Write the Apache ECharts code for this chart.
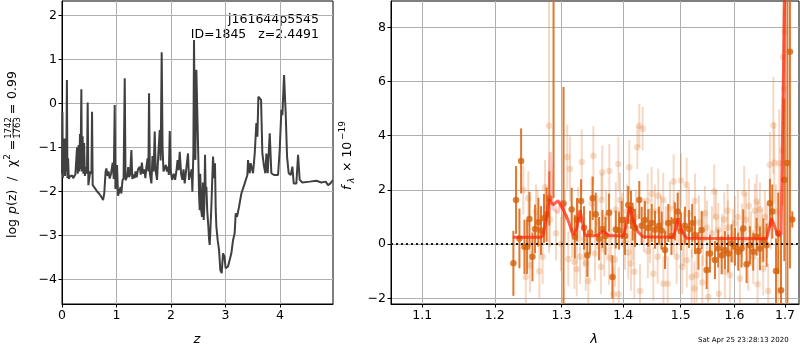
<!DOCTYPE html>
<html><head><meta charset="utf-8">
<script src="https://cdn.jsdelivr.net/npm/echarts@6/dist/echarts.min.js"></script>
<style>html,body{margin:0;padding:0;background:#fff}#c{width:800px;height:350px}</style>
</head><body><div id="c"></div>
<script>
// ---------- tick labels ----------
const zTicks = [0, 1, 2, 3, 4];
const logPTicks = [-4, -3, -2, -1, 0, 1, 2];
const lamTicks = [1.1, 1.2, 1.3, 1.4, 1.5, 1.6, 1.7];
const fluxTicks = [-2, 0, 2, 4, 6, 8];

// ---------- left panel: log p(z) vs z ----------
const pz = [
[0.000,-1.60],[0.008,-0.20],[0.016,-1.70],[0.026,-0.85],[0.036,-1.45],[0.046,-0.80],[0.056,-1.65],[0.066,-1.15],
[0.078,-1.55],[0.090,0.53],[0.100,-1.70],[0.112,-1.25],[0.125,-1.72],[0.145,-1.66],[0.165,-1.70],[0.185,-1.64],
[0.205,-1.70],[0.225,-1.66],[0.245,-1.62],[0.262,-1.65],[0.276,-1.00],[0.290,-1.60],[0.305,-0.95],[0.318,-1.55],
[0.330,-0.70],[0.340,-1.50],[0.355,0.32],[0.365,-1.55],[0.378,-0.75],[0.392,-1.60],[0.405,-0.90],[0.420,-1.65],
[0.440,-1.45],[0.458,-1.60],[0.471,0.02],[0.484,-1.86],[0.500,-1.70],[0.520,-1.55],[0.540,-1.60],[0.551,-0.19],
[0.563,-1.86],[0.600,-1.92],[0.640,-2.00],[0.680,-2.05],[0.720,-2.12],[0.753,-2.20],[0.775,-2.05],[0.800,-1.55],
[0.814,-1.48],[0.835,-1.65],[0.855,-1.55],[0.875,-1.71],[0.900,-1.60],[0.930,-1.35],[0.950,-1.72],[0.967,-0.04],
[0.980,-1.95],[0.997,-1.80],[1.010,-1.40],[1.028,-2.10],[1.059,-2.08],[1.075,-1.90],[1.089,-2.05],[1.110,-1.75],
[1.130,-1.70],[1.151,0.57],[1.166,-1.75],[1.181,-1.73],[1.200,-1.65],[1.215,-1.45],[1.230,-1.68],[1.250,-1.62],
[1.273,-1.06],[1.290,-1.72],[1.310,-1.62],[1.330,-1.70],[1.350,-1.55],[1.370,-1.68],[1.395,-1.50],[1.426,-1.44],
[1.445,-1.62],[1.465,-1.35],[1.487,-1.60],[1.510,-1.50],[1.530,-1.70],[1.548,-1.45],[1.570,-1.25],[1.585,-1.55],
[1.597,0.23],[1.612,-1.60],[1.640,-1.82],[1.660,-1.20],[1.680,-1.55],[1.701,-0.64],[1.720,-1.55],[1.744,-1.74],
[1.765,-1.20],[1.793,-0.61],[1.810,-1.30],[1.829,1.16],[1.845,-1.00],[1.862,-1.55],[1.884,-1.59],[1.905,-1.40],
[1.925,-1.55],[1.946,-1.44],[1.960,-1.63],[1.977,-0.63],[1.995,-1.55],[2.020,-1.74],[2.050,-1.60],[2.075,-1.74],
[2.098,-1.55],[2.120,-1.29],[2.140,-1.52],
[2.160,-1.10],[2.185,-1.60],[2.208,-1.74],[2.230,-1.50],[2.251,-1.82],[2.275,-1.55],[2.294,-1.33],[2.312,-1.14],
[2.331,-1.74],[2.361,-1.71],[2.380,-1.50],[2.392,-2.01],[2.410,-1.14],[2.422,1.44],[2.441,-1.14],[2.447,-1.29],
[2.465,0.76],[2.484,0.80],[2.502,-1.29],[2.515,-2.10],[2.527,-2.43],[2.536,-1.60],[2.545,-1.97],[2.556,-2.45],
[2.569,-2.58],[2.585,-1.80],[2.600,-2.65],[2.612,-2.30],[2.624,-1.17],[2.636,-2.00],[2.649,-1.90],[2.665,-2.45],
[2.685,-2.80],[2.698,-3.10],[2.710,-3.22],[2.722,-2.90],[2.740,-2.35],[2.760,-1.60],[2.771,-1.21],[2.790,-1.70],
[2.807,-1.36],[2.820,-2.40],[2.832,-2.80],[2.856,-3.11],[2.881,-3.33],[2.905,-3.79],[2.930,-3.86],[2.954,-3.41],
[2.979,-3.48],[3.003,-3.75],[3.046,-3.71],[3.076,-3.56],[3.107,-3.41],[3.138,-3.11],[3.168,-2.95],[3.187,-2.50],
[3.211,-2.58],[3.248,-2.35],[3.291,-2.05],[3.352,-1.82],[3.401,-1.63],[3.413,-1.29],[3.444,-1.59],[3.462,-1.36],
[3.505,-1.59],[3.536,-1.14],[3.566,-0.45],[3.585,-0.76],[3.603,0.15],[3.627,0.11],[3.652,0.08],[3.676,-1.14],
[3.707,-1.44],[3.731,-1.59],[3.750,-1.14],[3.774,-1.59],[3.811,-0.68],[3.841,-1.59],[3.890,-1.63],[3.964,-1.63],
[3.994,-1.06],[4.025,-0.15],[4.043,-0.27],[4.074,0.64],[4.104,-0.23],[4.129,-1.21],[4.159,-1.59],[4.196,-1.63],
[4.227,-1.44],[4.251,-1.82],[4.300,-1.82],[4.331,-1.17],[4.361,-1.74],[4.410,-1.80],[4.544,-1.78],[4.667,-1.76],
[4.758,-1.80],[4.838,-1.78],[4.881,-1.86],[4.924,-1.82],[4.960,-1.76],[4.972,-1.75]
];

// ---------- right panel: spectrum [lambda (um), flux, error] ----------
const darkPts = [
[1.2271,-0.71,1.2],[1.2310,1.63,1.25],[1.2360,0.21,1.1],[1.2385,3.07,1.2],[1.2435,-0.10,1.0],[1.2475,-0.10,1.0],
[1.2510,0.93,1.0],[1.2555,-0.47,0.9],[1.2594,0.56,0.9],[1.2645,0.81,0.9],[1.2685,0.50,0.9],[1.2730,0.95,0.9],
[1.2770,1.09,1.0],[1.2812,1.69,1.0],[1.2877,10.50,8.8],[1.3032,1.50,4.3],[1.3160,1.28,0.8],[1.3210,0.27,0.8],
[1.3245,0.90,0.8],[1.3309,1.59,0.8],[1.3357,0.60,0.8],[1.3410,-0.41,0.8],[1.3453,0.43,0.8],[1.3497,1.69,0.8],
[1.3545,1.10,0.8],[1.3600,0.20,0.8],[1.3655,0.56,0.7],[1.3705,0.30,0.7],[1.3764,1.16,0.7],[1.3820,-1.21,0.8],
[1.3876,0.54,0.7],[1.3930,0.50,0.7],[1.3975,0.89,0.7],[1.4030,0.30,0.7],[1.4086,1.44,0.7],[1.4132,1.26,0.7],
[1.4160,0.83,0.7],[1.4200,0.60,0.7],[1.4273,1.63,0.7],[1.4314,0.68,0.7],[1.4370,0.89,0.7],[1.4428,0.59,0.7],
[1.4487,0.78,0.7],[1.4545,0.53,0.7],[1.4614,0.68,0.7],[1.4662,0.50,0.7],[1.4720,-0.22,0.7],[1.4778,0.78,0.7],
[1.4835,0.30,0.7],[1.4897,0.84,0.7],[1.4946,1.20,0.7],[1.5005,0.47,0.7],[1.5077,0.68,0.7],[1.5150,0.56,0.7],
[1.5210,0.78,0.7],[1.5260,0.33,0.7],[1.5324,-0.25,0.7],[1.5382,0.52,0.7],[1.5475,-0.96,0.7],[1.5536,-0.35,0.7],
[1.5630,-0.59,0.7],[1.5692,-0.16,0.7],[1.5756,-0.41,0.7],[1.5818,-0.22,0.7],[1.5880,-0.35,0.7],[1.5945,0.03,0.7],
[1.6010,-0.10,0.7],[1.6073,-0.28,0.7],[1.6138,-0.16,0.7],[1.6170,0.58,0.7],[1.6235,-0.74,0.7],[1.6300,-0.04,0.7],
[1.6365,-0.28,0.7],[1.6431,0.27,0.7],[1.6497,-0.16,0.8],[1.6563,0.15,0.8],[1.6630,-0.04,0.8],[1.6696,1.51,0.9],
[1.6743,1.20,1.0],[1.6818,-0.99,1.2],[1.6864,0.40,1.5],[1.6920,-1.70,2.0],[1.6987,2.37,3.0],[1.7050,2.99,6.0],
[1.7102,7.10,8.0],[1.7150,0.91,0.3]
];
const lightPts = [
[1.2418,2.00,0.9],[1.2455,-1.21,1.0],[1.2493,1.69,1.0],[1.2518,-0.78,1.0],[1.2609,1.20,1.0],[1.2634,1.01,1.0],
[1.2659,-1.00,1.0],[1.2710,-0.47,1.0],[1.2746,2.10,1.0],[1.2807,4.37,4.7],[1.2823,0.90,1.0],[1.2915,0.40,1.0],
[1.2993,0.00,1.0],[1.3055,1.00,1.0],[1.3091,3.21,1.2],[1.3107,-0.55,1.0],[1.3134,2.77,1.2],[1.3166,0.50,1.0],
[1.3204,-0.65,1.0],[1.3241,-0.93,1.0],[1.3261,1.10,1.0],[1.3293,-0.47,1.0],[1.3320,3.03,1.2],[1.3357,0.20,1.0],
[1.3384,-0.72,1.0],[1.3426,-1.36,1.0],[1.3480,1.50,1.0],[1.3507,3.26,1.1],[1.3534,-0.35,1.0],[1.3566,0.80,1.0],
[1.3631,-0.84,1.0],[1.3640,1.63,1.0],[1.3653,2.64,1.0],[1.3686,-0.20,1.0],[1.3714,1.00,1.0],[1.3764,-0.50,1.0],
[1.3769,2.70,1.0],[1.3797,0.30,1.0],[1.3836,-1.85,1.0],[1.3864,-0.57,1.0],[1.3876,1.28,1.0],[1.3919,2.96,1.0],
[1.3925,-1.85,1.0],[1.3946,1.63,1.0],[1.3980,0.90,1.0],[1.4030,0.05,1.0],[1.4064,1.20,1.0],[1.4086,-0.31,1.0],
[1.4102,2.84,1.0],[1.4131,-0.72,1.0],[1.4165,0.40,1.0],[1.4187,-1.02,1.0],[1.4216,1.00,1.0],[1.4239,3.57,0.8],
[1.4273,4.37,0.8],[1.4285,-1.73,1.0],[1.4331,4.26,0.8],[1.4354,0.70,1.0],[1.4418,1.60,1.0],[1.4420,-0.26,1.0],
[1.4457,0.30,1.0],[1.4486,1.85,1.0],[1.4515,-1.09,1.0],[1.4544,1.20,1.0],[1.4591,-0.47,1.0],[1.4602,1.78,1.0],
[1.4650,0.80,1.0],[1.4690,1.63,1.0],[1.4692,-1.46,1.0],[1.4737,0.40,1.0],[1.4768,-1.46,1.0],[1.4808,1.30,1.0],
[1.4874,2.31,1.0],[1.4879,0.60,1.0],[1.4928,-0.47,1.0],[1.4969,1.00,1.0],[1.5005,2.35,1.0],[1.5029,-0.84,1.0],
[1.5059,0.20,1.0],[1.5108,2.19,1.0],[1.5110,-0.60,1.0],[1.5150,1.10,1.0],[1.5199,-1.21,1.0],[1.5205,0.50,1.0],
[1.5247,-1.64,1.0],[1.5260,1.60,1.0],[1.5290,-1.15,1.0],[1.5333,0.80,1.0],[1.5394,-1.42,1.0],[1.5406,0.20,1.0],
[1.5443,1.14,1.0],[1.5480,0.60,1.0],[1.5505,-1.95,1.0],[1.5573,0.40,1.0],[1.5617,1.94,1.0],[1.5649,1.00,1.0],
[1.5692,0.52,1.0],[1.5706,-1.83,1.0],[1.5762,0.10,1.0],[1.5805,0.91,1.0],[1.5818,-1.02,1.0],[1.5869,1.23,1.0],
[1.5875,0.60,1.0],[1.5913,-1.15,1.0],[1.5970,0.30,1.0],[1.6009,0.77,1.0],[1.6066,1.00,1.0],[1.6105,-1.27,1.0],
[1.6144,0.50,1.0],[1.6189,1.88,1.0],[1.6222,0.90,1.0],[1.6268,-0.72,1.0],[1.6280,1.41,1.0],[1.6320,0.20,1.0],
[1.6365,-0.47,1.0],[1.6398,1.23,1.0],[1.6432,1.57,1.0],[1.6451,-1.48,1.0],[1.6458,0.60,1.0],[1.6497,1.28,1.0],
[1.6537,0.30,1.0],[1.6563,-0.90,1.0],[1.6597,1.00,1.0],[1.6636,0.50,1.0],[1.6662,-1.73,1.0],[1.6696,2.93,1.2],
[1.6716,0.80,1.0],[1.6764,4.38,1.8],[1.6783,3.00,1.5],[1.6817,1.20,1.0],[1.6864,-1.73,1.5],[1.6884,2.97,2.0],
[1.6953,3.44,2.0],[1.6964,6.90,2.5],[1.6979,5.73,3.0],[1.6996,7.84,3.0]
];
const modelLine = [
[1.2262,0.25],[1.2669,0.25],[1.2715,0.30],[1.2772,1.00],[1.2807,1.65],[1.2869,1.45],[1.2946,1.60],[1.3030,1.26],
[1.3100,0.90],[1.3186,0.33],[1.3244,0.60],[1.3293,1.26],[1.3373,0.33],[1.3453,0.30],[1.3570,0.32],[1.3670,0.48],
[1.3760,0.32],[1.3998,0.30],[1.4040,0.60],[1.4114,1.38],[1.4180,0.80],[1.4250,0.45],[1.4340,0.27],[1.4868,0.25],
[1.4957,0.95],[1.5020,0.45],[1.5108,0.22],[1.6630,0.20],[1.6730,0.95],[1.6864,0.30],[1.6920,0.35],[1.6996,9.50]
];
const contamLine = [
[1.2807,1.65],[1.2825,3.40],[1.2869,1.30],[1.2946,1.15],[1.3000,1.60],[1.3030,1.30]
];

const FONT = 'DejaVu Sans';
const minus = v => String(v).replace('-', '\u2212');
const LN = Math.log;

function axisBase(ticks, fmt) {
  return {
    axisLine: {show: true, onZero: false, lineStyle: {color: '#000', width: 1}},
    axisTick: {show: true, inside: false, length: 3.5, customValues: ticks, lineStyle: {color: '#000', width: 1}},
    axisLabel: {show: true, customValues: ticks, color: '#000', fontFamily: FONT, fontSize: 12.5, margin: 5, formatter: fmt},
    splitLine: {show: true, lineStyle: {color: '#b0b0b0', width: 1}},
    splitArea: {show: false}
  };
}

function errBars(pts, color, width) {
  return {
    type: 'custom', xAxisIndex: 1, yAxisIndex: 1, clip: true, silent: true,
    data: pts.map(p => [LN(p[0]), p[1] - p[2], p[1] + p[2]]),
    encode: {x: 0, y: [1, 2]},
    renderItem: (params, api) => {
      const a = api.coord([api.value(0), api.value(1)]);
      const b = api.coord([api.value(0), api.value(2)]);
      return {type: 'line', shape: {x1: a[0], y1: a[1], x2: b[0], y2: b[1]},
        style: {stroke: color, lineWidth: width}};
    }
  };
}

const chart = echarts.init(document.getElementById('c'), null, {renderer: 'canvas'});
const lamFmt = v => Math.exp(v).toFixed(1);
const txt = (o) => Object.assign({type: 'text', silent: true}, o);
const rot = (x, y, text, font, align) => txt({x, y, rotation: Math.PI / 2,
  style: {text, font, fill: '#000', textAlign: align || 'left', textVerticalAlign: 'middle'}});
const F = '12.5px "DejaVu Sans"', FI = 'italic 12.5px "DejaVu Sans"', FS = '8.5px "DejaVu Sans"';

chart.setOption({
  animation: false,
  backgroundColor: '#fff',
  grid: [
    {left: 62, top: 1, width: 271, height: 303, show: true, borderColor: '#000', borderWidth: 1, backgroundColor: 'transparent'},
    {left: 391, top: 1, width: 408, height: 303, show: true, borderColor: '#000', borderWidth: 1, backgroundColor: 'transparent'}
  ],
  xAxis: [
    Object.assign({type: 'value', gridIndex: 0, min: 0, max: 4.972}, axisBase(zTicks, v => minus(v))),
    Object.assign({type: 'value', gridIndex: 1, min: 0.05773, max: 0.5475}, axisBase(lamTicks.map(LN), lamFmt))
  ],
  yAxis: [
    Object.assign({type: 'value', gridIndex: 0, min: -4.561, max: 2.325}, axisBase(logPTicks, v => minus(v))),
    Object.assign({type: 'value', gridIndex: 1, min: -2.21, max: 8.97}, axisBase(fluxTicks, v => minus(v)))
  ],
  series: [
    {type: 'line', xAxisIndex: 0, yAxisIndex: 0, data: pz, showSymbol: false, symbol: 'none', clip: true,
      lineStyle: {color: '#404040', width: 2}, silent: true},
    errBars(lightPts, 'rgba(224,120,42,0.28)', 2),
    {type: 'scatter', xAxisIndex: 1, yAxisIndex: 1, data: lightPts.map(p => [LN(p[0]), p[1]]),
      symbolSize: 6.5, itemStyle: {color: 'rgba(224,120,42,0.3)'}, silent: true},
    errBars(darkPts, 'rgba(221,105,25,0.9)', 2),
    {type: 'scatter', xAxisIndex: 1, yAxisIndex: 1, data: darkPts.map(p => [LN(p[0]), p[1]]),
      symbolSize: 6.5, itemStyle: {color: '#d4620c'}, silent: true},
    {type: 'line', xAxisIndex: 1, yAxisIndex: 1, data: contamLine.map(p => [LN(p[0]), p[1]]), symbol: 'none', clip: true,
      lineStyle: {color: 'rgba(255,70,70,0.3)', width: 3}, silent: true},
    {type: 'line', xAxisIndex: 1, yAxisIndex: 1, data: modelLine.map(p => [LN(p[0]), p[1]]), symbol: 'none', clip: true,
      lineStyle: {color: 'rgba(255,35,10,0.7)', width: 3}, silent: true,
      markLine: {silent: true, symbol: ['none', 'none'], label: {show: false},
        lineStyle: {color: '#1a1a1a', type: [2, 3], width: 2}, data: [{yAxis: 0}]}}
  ],
  graphic: [
    txt({x: 319, y: 20, style: {text: 'j161644p5545', font: F, fill: '#000', textAlign: 'right', textVerticalAlign: 'middle'}}),
    txt({x: 319, y: 35, style: {text: 'ID=1845   z=2.4491', font: F, fill: '#000', textAlign: 'right', textVerticalAlign: 'middle'}}),
    txt({x: 197, y: 340, style: {text: 'z', font: 'italic 13px "DejaVu Sans"', fill: '#000', textAlign: 'center', textVerticalAlign: 'middle'}}),
    txt({x: 594, y: 340, style: {text: 'λ', font: 'italic 13px "DejaVu Sans"', fill: '#000', textAlign: 'center', textVerticalAlign: 'middle'}}),
    txt({x: 698, y: 340, style: {text: 'Sat Apr 25 23:28:13 2020', font: '7px "DejaVu Sans"', fill: '#000', textAlign: 'left', textVerticalAlign: 'middle'}}),
    // left y label (rotated): log p(z) / chi^2 = 1742/1763 = 0.99
    rot(12.5, 238, 'log', F),
    rot(12.5, 214, 'p', FI),
    rot(12.5, 206, '(z)', F),
    rot(12.5, 179, '/', F, 'center'),
    rot(12.5, 167, 'χ', F),
    rot(7.5, 157, '2', '9px "DejaVu Sans"', 'center'),
    rot(12.5, 145, '=', F, 'center'),
    rot(9, 128, '1742', FS, 'center'),
    rot(17.5, 128, '1763', FS, 'center'),
    {type: 'line', silent: true, shape: {x1: 13, y1: 120, x2: 13, y2: 136}, style: {stroke: '#000', lineWidth: 0.8}},
    rot(12.5, 109, '=', F, 'center'),
    rot(12.5, 99, '0.99', F),
    // right y label (rotated): f_lambda x 10^-19
    rot(348, 190, 'f', FI),
    rot(352, 183, 'λ', 'italic 9px "DejaVu Sans"'),
    rot(348, 176, ' × 10', F),
    rot(342.5, 140, '\u221219', '9px "DejaVu Sans"')
  ]
});
</script>
</body></html>
